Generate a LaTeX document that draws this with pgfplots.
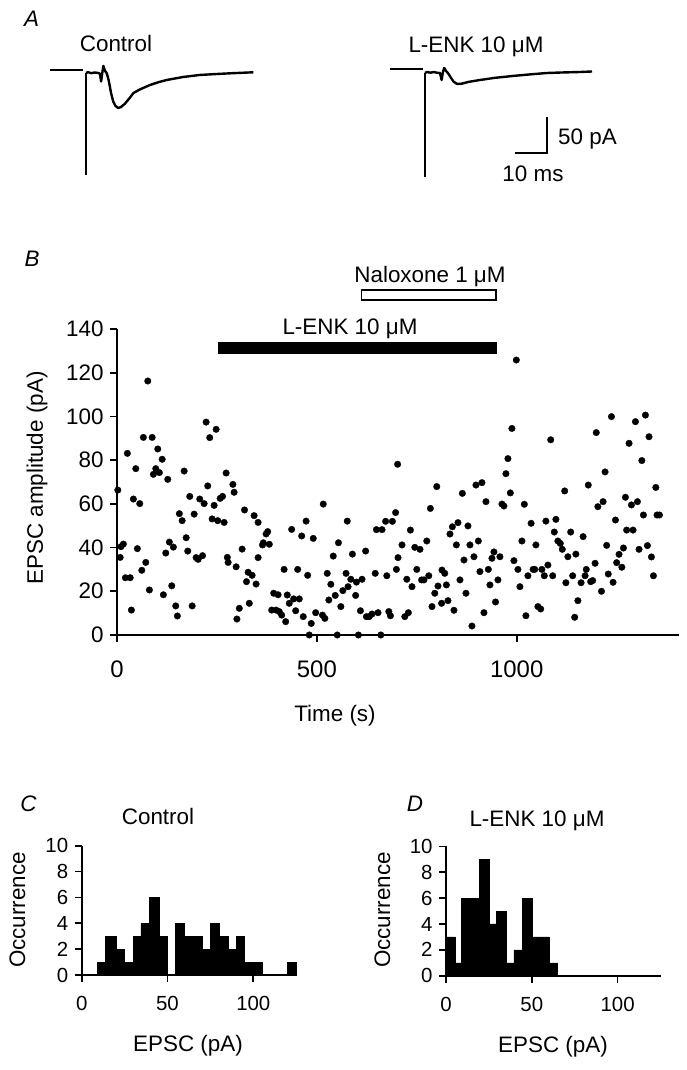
\documentclass[border=0pt]{standalone}
\usepackage{fontspec}
\setmainfont{Liberation Sans}
\usepackage{pgfplots}
\pgfplotsset{compat=1.18}
\pgfplotstableread{
t amp
77 116.2
66 90.4
88 90.4
26 83.1
102 85.1
113 80.4
47 76.1
97 76.1
91 73.5
106 74.3
127 71.2
168 75.0
223 97.4
248 94.1
232 90.3
2 66.3
41 62.2
57 60.1
182 63.4
207 62.2
218 60.1
227 68.2
243 59.3
258 62.5
264 63.4
273 74.1
290 68.9
293 65.3
156 55.5
163 52.3
193 55.3
238 53.1
252 52.3
268 51.5
319 57.2
343 54.6
353 51.5
8 35.5
16 41.6
10 40.4
21 26.2
33 26.2
36 11.4
51 39.5
72 33.2
62 29.6
81 20.6
116 18.4
122 37.5
131 42.5
141 40.2
137 22.5
147 13.3
151 8.7
173 44.5
177 38.4
188 13.3
198 35.4
203 34.6
214 36.3
276 35.5
278 33.2
298 31.2
313 39.3
324 24.4
328 28.7
338 27.3
348 23.3
306 12.2
300 7.3
331 14.5
353 35.4
377 47.3
373 46.2
366 42.2
381 41.5
364 41.2
437 48.3
473 52.1
462 45.3
491 44.2
516 59.9
576 52.1
554 42.2
541 36.1
589 37.0
622 38.4
649 48.2
663 48.2
672 52.0
689 52.0
697 56.0
702 78.1
703 35.4
699 30.0
418 30.0
452 30.0
477 27.3
526 28.2
535 23.2
573 28.2
585 25.5
599 24.2
613 25.5
646 28.2
675 27.1
392 19.1
403 18.4
426 18.3
442 16.5
456 16.5
431 14.5
387 11.4
398 11.4
406 10.7
412 9.1
422 6.1
447 11.1
466 8.4
486 5.3
497 10.2
514 9.1
520 7.6
530 16.0
546 18.1
565 20.3
578 22.1
597 18.1
560 13.0
609 11.1
624 8.4
631 8.4
638 9.6
653 10.2
680 10.7
684 8.8
481 0
551 0
604 0
660 0
999 125.8
988 94.5
1237 99.9
1297 97.6
1322 100.6
1331 90.7
1199 92.6
1085 89.3
713 41.2
734 48.0
745 40.1
758 39.2
775 43.0
784 57.9
800 67.9
750 30.0
762 25.2
768 25.2
780 27.1
725 25.5
738 22.1
720 8.4
729 10.2
788 13.0
795 19.1
803 22.4
813 29.7
820 28.2
824 22.9
812 14.5
828 15.7
843 11.3
833 46.2
839 49.5
853 51.4
849 41.2
864 64.8
858 25.2
868 34.3
873 19.1
878 49.9
883 41.2
893 35.8
888 4.1
898 68.6
913 69.7
904 43.0
908 29.0
923 61.0
918 10.2
929 30.0
933 22.9
938 35.1
943 38.0
953 25.2
947 15.1
958 35.8
963 59.9
968 59.0
973 73.8
978 80.7
984 65.0
993 34.0
1003 30.0
1008 22.1
1013 43.0
1019 59.8
1023 8.8
1028 27.1
1036 51.1
1041 30.0
1045 30.0
1048 41.2
1053 13.0
1060 11.9
1063 30.0
1069 27.1
1073 52.1
1078 32.0
1090 27.1
1094 47.1
1098 52.9
1103 43.0
1109 41.9
1114 39.2
1120 65.9
1123 23.9
1128 35.8
1135 47.1
1140 27.1
1145 8.1
1148 37.0
1153 15.7
1161 23.9
1166 45.0
1171 27.1
1174 30.0
1179 68.6
1185 24.4
1190 24.9
1196 32.8
1203 58.7
1216 61.0
1212 20.0
1221 74.6
1225 41.0
1229 27.9
1241 24.1
1247 52.6
1250 33.1
1256 36.9
1263 31.0
1267 39.8
1272 63.0
1275 48.0
1291 48.0
1281 87.7
1287 59.5
1302 61.0
1306 39.2
1313 79.8
1317 54.9
1327 40.9
1337 35.7
1342 27.1
1348 67.5
1351 54.9
1357 54.9
}\scatterdata
\pgfplotsset{
 common/.style={scale only axis, axis lines=left, axis line style={-,line width=1.7bp},
   tick align=outside, major tick length=7bp, tick style={black, line width=1.7bp},
   /pgf/number format/assume math mode=true, /pgf/number format/1000 sep={}, clip=false},
 hist/.style={common, width=214.5bp, height=129.3bp, xmin=0, xmax=125, ymin=0, ymax=10,
   xtick={0,50,100}, ytick={0,2,4,6,8,10},
   tick label style={font=\fontsize{20.5}{24}\selectfont},
   xticklabel style={yshift=-11bp}, yticklabel style={xshift=-3bp}}
}
\begin{document}
\begin{tikzpicture}[x=1bp,y=1bp]
\useasboundingbox (0,0) rectangle (687,1070);
% ---------- Panel A : traces ----------
\begin{axis}[scale only axis, hide axis, width=560bp, height=126bp,
  xmin=0, xmax=175, ymin=-160, ymax=15, at={(40bp,884.8bp)}, anchor=south west, clip=false]
\addplot[black, line width=2.4bp] coordinates {(3.1,0) (13.4,0)};
\addplot[black, line width=1.3bp] coordinates {(14.4,-145.8) (14.4,-4)};
\addplot[black, line width=2.4bp, line join=round] coordinates {
(14.4,-4.2) (15,-3) (16,-4.5) (17,-3.5) (18,-4) (18.7,-5) (19.1,-16) (19.4,-6) (19.8,5.6)
(20.3,-1) (20.9,-5) (21.5,-15) (22.2,-32) (22.9,-44) (23.6,-50) (24.4,-52.8) (25.3,-51.5)
(26.5,-47) (28,-39) (29.2,-32) (31,-27.5) (34.4,-20.8) (37,-17) (39.6,-13.9) (44.8,-9.7)
(50,-6.9) (55.2,-5.6) (60,-4.5) (66.7,-3.2)};
\addplot[black, line width=2.4bp] coordinates {(109.4,1.4) (119.7,1.4)};
\addplot[black, line width=1.3bp] coordinates {(120.3,-148.6) (120.3,-4)};
\addplot[black, line width=2.4bp, line join=round] coordinates {
(120.3,-4.2) (121,-2.8) (122,-3.8) (123,-2.8) (124,-3.8) (125,-4.2) (125.5,-13.9) (125.9,-3)
(126.3,2.8) (126.9,-1.5) (127.6,-5) (128.3,-10) (129.2,-16) (130.3,-19.4) (131.8,-19)
(134,-16.5) (137.5,-13.9) (142,-11) (147.8,-8.3) (153,-6.2) (158.4,-4.2) (163,-3.5)
(168.75,-2.8) (172.5,-2.1)};
\addplot[black, line width=2.4bp] coordinates {(148.4,-115.3) (158.4,-115.3) (158.4,-65.3)};
\end{axis}
% ---------- Panel B : scatter ----------
\begin{axis}[common, width=561.6bp, height=306bp, xmin=0, xmax=1405, ymin=0, ymax=140,
  at={(117bp,435bp)}, anchor=south west,
  xtick={0,500,1000}, ytick={0,20,...,140},
  xticklabel style={font=\fontsize{24}{28}\selectfont, yshift=-15bp},
  yticklabel style={font=\fontsize{22.5}{26}\selectfont, xshift=-3bp}]
\addplot[only marks, mark=*, mark size=3.3bp, mark options={fill=black, draw=black, line width=0.3bp}]
  table[x=t, y=amp] {\scatterdata};
\addplot[fill=black, draw=black, line width=0pt] coordinates {(255,129) (950,129) (950,134) (255,134)} -- cycle;
\addplot[fill=white, draw=black, line width=1.3bp] coordinates {(612,153.2) (948,153.2) (948,157.8) (612,157.8)} -- cycle;
\end{axis}
% ---------- Panel C ----------
\begin{axis}[hist, at={(81.7bp,95bp)}, anchor=south west]
\addplot[const plot, fill=black, draw=black, line width=0.5bp] coordinates {
(9,1) (14,3) (20,2) (25,1) (30,3) (34.5,4) (39.5,6) (45,3) (50,0) (54.5,4) (60,3) (65,3)
(70,2) (75,4) (80,3) (85.5,2) (90,3) (95,1) (100,1) (105,0) (120,1) (125,1)} \closedcycle;
\end{axis}
% ---------- Panel D ----------
\begin{axis}[hist, at={(446bp,94.3bp)}, anchor=south west]
\addplot[const plot, fill=black, draw=black, line width=0.5bp] coordinates {
(0,3) (5.5,1) (9,6) (15,6) (19.5,9) (25,4) (29.5,5) (35,1) (39.5,2) (44.5,6) (50,3) (55,3)
(60,1) (65,1)} \closedcycle;
\end{axis}
% ---------- Text ----------
\begin{scope}[shift={(0,1070bp)}, x=1bp, y=-1bp]
\tikzset{lab/.style={inner sep=0pt, anchor=base, font=\fontsize{22.5}{26}\selectfont}}
\node[lab] at (31.5,26.7) {\itshape A};
\node[lab] at (116,51.7) {Control};
\node[lab] at (476,52.3) {L-ENK 10 μM};
\node[lab, anchor=base west] at (558,145) {50 pA};
\node[lab] at (533,181.7) {10 ms};
\node[lab] at (32,266.7) {\itshape B};
\node[lab] at (350,335) {L-ENK 10 μM};
\node[lab] at (430,283) {Naloxone 1 μM};
\node[lab, anchor=center, rotate=90] at (37,478) {EPSC amplitude (pA)};
\node[lab] at (335,722) {Time (s)};
\node[lab] at (28.5,811.7) {\itshape C};
\node[lab] at (158,825) {Control};
\node[lab, anchor=base, rotate=90] at (25,910) {Occurrence};
\node[lab] at (188,1051.7) {EPSC (pA)};
\node[lab] at (415,811.7) {\itshape D};
\node[lab] at (537,826.7) {L-ENK 10 μM};
\node[lab, anchor=base, rotate=90] at (390,910) {Occurrence};
\node[lab] at (553,1052.7) {EPSC (pA)};
\end{scope}
\end{tikzpicture}
\end{document}
